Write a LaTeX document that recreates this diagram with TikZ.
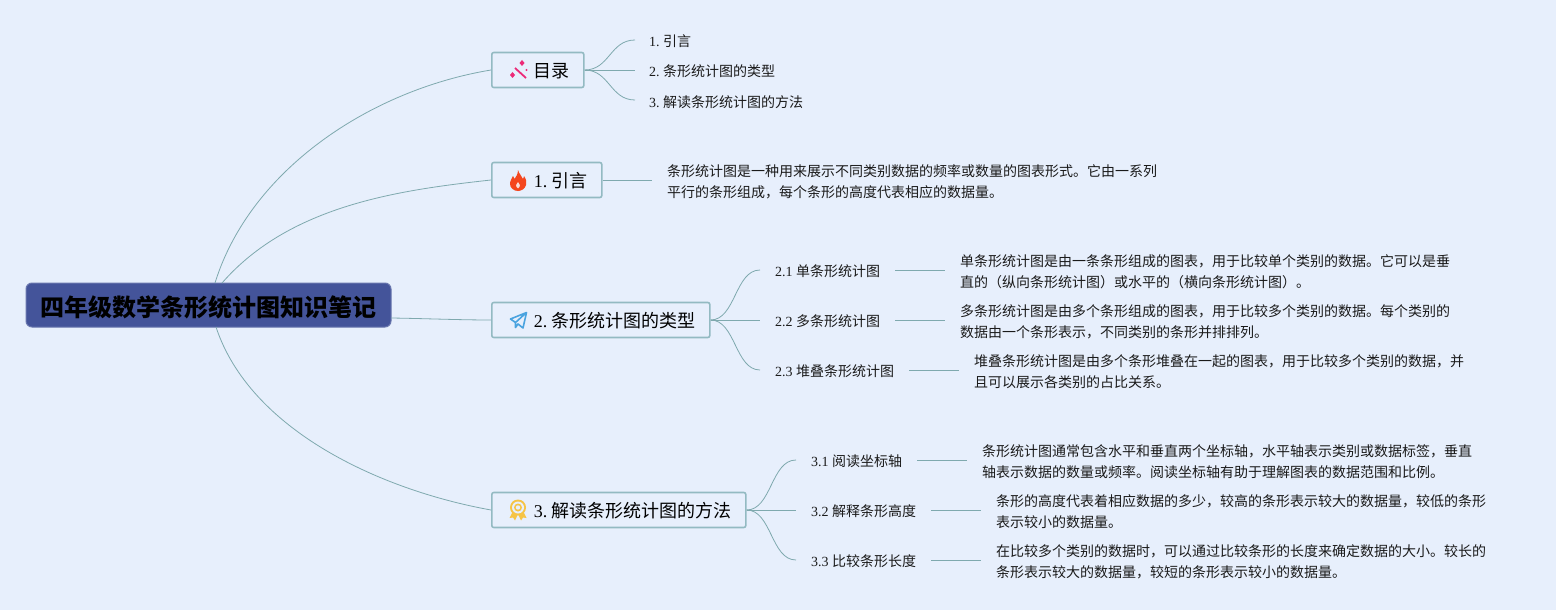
\documentclass[tikz,border=0pt]{standalone}
\usepackage{fontspec}
\usetikzlibrary{calc}
\setmainfont{Noto Sans CJK SC}
\newfontfamily\lat{Liberation Serif}
\newcommand{\n}[1]{{\lat #1}\hspace{0.25em}}
\definecolor{bgc}{HTML}{E7EFFC}
\definecolor{linec}{HTML}{7FA9AE}
\definecolor{boxb}{HTML}{93BAC2}
\definecolor{rootc}{HTML}{44549A}
\definecolor{txtc}{HTML}{1A1A1A}
\definecolor{wandc}{HTML}{EC2A78}
\definecolor{flamec}{HTML}{F4461E}
\definecolor{planec}{HTML}{4AA3DF}
\definecolor{medalc}{HTML}{F6C445}
\tikzset{x=1pt,y=-1pt,
 conn/.style={draw=linec,line width=0.8pt},
 branch/.style={draw=boxb,line width=1.6pt,fill=bgc,rounded corners=2pt,inner sep=0pt,anchor=west,minimum height=35pt,text height=16pt,text depth=1pt,text=black,font=\fontsize{18}{18}\selectfont,align=left},
 lbl/.style={inner ysep=0pt,inner xsep=15pt,anchor=west,text height=14pt,text depth=2pt,text=txtc,font=\fontsize{14}{14}\selectfont},
 toc/.style={lbl,inner xsep=14pt,text height=15pt,text depth=1pt},
 para/.style={inner ysep=0pt,inner xsep=15pt,anchor=west,align=left,text=txtc,font=\fontsize{14}{21}\selectfont},
}
\newcommand{\wand}[2]{\begin{scope}[shift={(#1,#2)},fill=wandc,draw=wandc]
 \draw[line width=1.8pt] (5,6) -- (16,16);
 \fill (12,-2) -- (14.5,1) -- (12,4) -- (9.5,1) -- cycle;
 \fill (2.5,10) -- (5,13) -- (2.5,16) -- (0,13) -- cycle;
 \fill (16.5,8) circle (1.2);
\end{scope}}
\newcommand{\flame}[2]{\begin{scope}[shift={(#1,#2)}]
 \fill[flamec] (9,0) .. controls (10,4) and (13,6) .. (14,9) .. controls (15,7) and (15,6.5) .. (15,6) .. controls (17,9) and (18,12) .. (17,15) .. controls (16,19) and (12,21) .. (9,21) .. controls (5,21) and (1,18) .. (1,14) .. controls (1,10) and (3,9) .. (4,6) .. controls (5,7) and (5,8) .. (5.5,9) .. controls (7,7) and (9,4) .. (9,0) -- cycle;
 \fill[bgc!60!flamec!40!white] (9,12) .. controls (11,14) and (12,16) .. (9,18.5) .. controls (6,16) and (7,14) .. (9,12) -- cycle;
\end{scope}}
\newcommand{\plane}[2]{\begin{scope}[shift={(#1,#2)}]
 \draw[draw=planec,line width=1.6pt,line join=round] (16.5,0.5) -- (0.5,7) -- (5.5,10.5) -- (16.5,0.5) -- (13,16) -- (8,12) -- (5.5,15.5) -- (5.5,10.5);
\end{scope}}
\newcommand{\medal}[2]{\begin{scope}[shift={(#1,#2)}]
 \fill[medalc] (4,11) -- (0.5,18) -- (4,17.5) -- (6,20.5) -- (9,14) -- (12,20.5) -- (14,17.5) -- (17.5,18) -- (14,11) -- cycle;
 \fill[medalc] (9,7.5) circle (8);
 \fill[bgc] (9,7.5) circle (6);
 \fill[medalc] (9,7.5) circle (4);
 \fill[bgc] (9,7.5) circle (2.2);
\end{scope}}
\begin{document}
\begin{tikzpicture}
\useasboundingbox[fill=bgc] (0,0) rectangle (1556,610);
% root
\node[draw=rootc!80!white,line width=1pt,fill=rootc,rounded corners=6pt,anchor=west,minimum width=365pt,minimum height=44pt,inner sep=0pt,text height=24pt,text depth=2pt,text=black,font=\fontsize{24}{24}\selectfont\bfseries] (root) at (25.5,305) {四年级数学条形统计图知识笔记};
% branches
\node[branch,text width=92pt] (b0) at (491,70) {\hspace*{42pt}目录};
\node[branch,text width=110pt] (b1) at (491,180) {\hspace*{42pt}\n{1.}引言};
\node[branch,text width=218pt] (b2) at (491,320) {\hspace*{42pt}\n{2.}条形统计图的类型};
\node[branch,text width=254pt] (b3) at (491,510) {\hspace*{42pt}\n{3.}解读条形统计图的方法};
\wand{510}{62}
\flame{509}{170}
\plane{510}{312}
\medal{509}{500}
% root connectors
\coordinate (r0) at (215,283);
\coordinate (r1) at (222,283);
\coordinate (r2) at (391,318);
\coordinate (r3) at (216,327);
\draw[conn] (r0) .. controls (250,170) and (370,90) .. (b0.west);
\draw[conn] (r1) .. controls (290,205) and (400,190) .. (b1.west);
\draw[conn] (r2) .. controls (425,318.5) and (460,320) .. (b2.west);
\draw[conn] (r3) .. controls (250,430) and (380,490) .. (b3.west);
% toc items
\node[toc] (i1) at (635,40) {\n{1.}引言};
\node[toc] (i2) at (635,70) {\n{2.}条形统计图的类型};
\node[toc] (i3) at (635,100) {\n{3.}解读条形统计图的方法};
\foreach \t in {i1,i2,i3}{\draw[conn] (b0.east) .. controls +(25,0) and ($(\t.west)+(-25,0)$) .. (\t.west);}
% intro
\node[para] (t1) at (652,181.5) {条形统计图是一种用来展示不同类别数据的频率或数量的图表形式。它由一系列\\平行的条形组成，每个条形的高度代表相应的数据量。};
\draw[conn] (b1.east) -- (b1.east -| t1.west);
% section 2
\node[lbl] (a1) at (760,270) {\n{2.1}单条形统计图};
\node[lbl] (a2) at (760,320) {\n{2.2}多条形统计图};
\node[lbl] (a3) at (760,370) {\n{2.3}堆叠条形统计图};
\foreach \t in {a1,a2,a3}{\draw[conn] (b2.east) .. controls +(25,0) and ($(\t.west)+(-25,0)$) .. (\t.west);}
\node[para] (p1) at (945,271.5) {单条形统计图是由一条条形组成的图表，用于比较单个类别的数据。它可以是垂\\直的（纵向条形统计图）或水平的（横向条形统计图）。};
\node[para] (p2) at (945,321.5) {多条形统计图是由多个条形组成的图表，用于比较多个类别的数据。每个类别的\\数据由一个条形表示，不同类别的条形并排排列。};
\node[para] (p3) at (959,371.5) {堆叠条形统计图是由多个条形堆叠在一起的图表，用于比较多个类别的数据，并\\且可以展示各类别的占比关系。};
\draw[conn] (a1.east) -- (a1.east -| p1.west);
\draw[conn] (a2.east) -- (a2.east -| p2.west);
\draw[conn] (a3.east) -- (a3.east -| p3.west);
% section 3
\node[lbl] (c1) at (796,460) {\n{3.1}阅读坐标轴};
\node[lbl] (c2) at (796,510) {\n{3.2}解释条形高度};
\node[lbl] (c3) at (796,560) {\n{3.3}比较条形长度};
\foreach \t in {c1,c2,c3}{\draw[conn] (b3.east) .. controls +(25,0) and ($(\t.west)+(-25,0)$) .. (\t.west);}
\node[para] (q1) at (967,461.5) {条形统计图通常包含水平和垂直两个坐标轴，水平轴表示类别或数据标签，垂直\\轴表示数据的数量或频率。阅读坐标轴有助于理解图表的数据范围和比例。};
\node[para] (q2) at (981,511.5) {条形的高度代表着相应数据的多少，较高的条形表示较大的数据量，较低的条形\\表示较小的数据量。};
\node[para] (q3) at (981,561.5) {在比较多个类别的数据时，可以通过比较条形的长度来确定数据的大小。较长的\\条形表示较大的数据量，较短的条形表示较小的数据量。};
\draw[conn] (c1.east) -- (c1.east -| q1.west);
\draw[conn] (c2.east) -- (c2.east -| q2.west);
\draw[conn] (c3.east) -- (c3.east -| q3.west);
\end{tikzpicture}
\end{document}
